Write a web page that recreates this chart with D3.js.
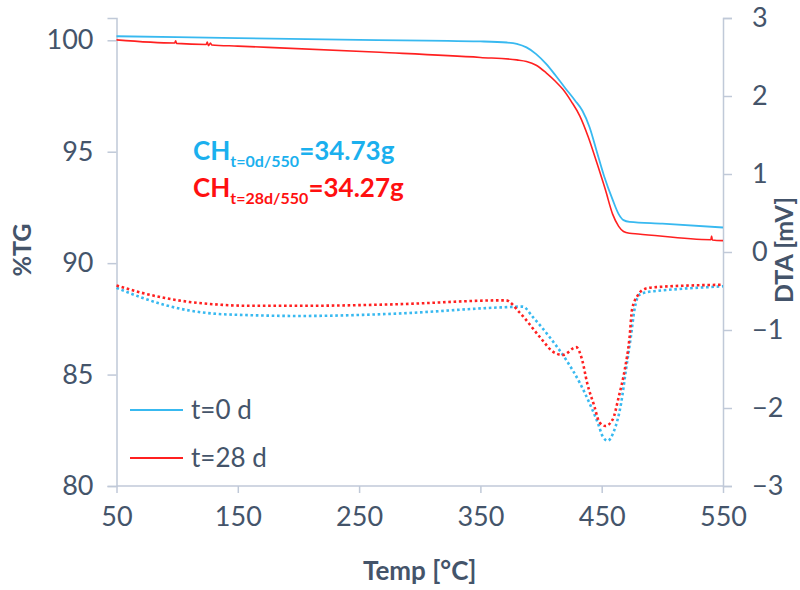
<!DOCTYPE html>
<html>
<head>
<meta charset="utf-8">
<script src="https://cdn.jsdelivr.net/npm/d3@7"></script>
<style>
    body { margin: 0; background: #ffffff; }
    svg { display: block; }
</style>
</head>
<body>
<svg id="chart" width="800" height="590"></svg>
<script>
// TG curves (left axis, %TG) - [temp, value]
const tg0d = [
    [50, 100.18], [150, 100.10], [250, 100.02], [350, 99.95], [372, 99.90],
    [380, 99.84], [388, 99.68], [396, 99.38], [404, 98.95], [412, 98.42],
    [420, 97.85], [428, 97.30], [434, 96.85], [440, 96.10], [446, 95.00],
    [452, 93.90], [459, 92.85], [464, 92.20], [468, 91.93], [473, 91.85],
    [500, 91.77], [550, 91.60]
];
const tg28d = [
    [50, 100.02], [98, 99.88], [98.8, 99.98], [99.5, 99.86], [124, 99.81],
    [124.8, 99.92], [125.8, 99.76], [127.5, 99.88], [128.5, 99.79],
    [150, 99.74], [267, 99.46], [350, 99.23], [380, 99.12], [388, 99.05],
    [396, 98.88], [404, 98.55], [412, 98.15], [418, 97.80], [425, 97.25],
    [432, 96.60], [439, 95.65], [446, 94.50], [453, 93.30], [459, 92.20],
    [464, 91.65], [468, 91.42], [473, 91.34], [480, 91.31], [540, 91.05],
    [540.6, 91.22], [541.2, 91.04], [550, 91.01]
];
// DTA curves (right axis, mV)
const dta0d = [
    [50, -0.46], [70, -0.58], [90, -0.68], [110, -0.75], [130, -0.79],
    [160, -0.81], [201, -0.82], [281, -0.79],
    [367, -0.71], [385, -0.70], [393, -0.83], [407, -1.09], [421, -1.39],
    [432, -1.68], [440, -1.94], [447, -2.20], [451, -2.37], [455, -2.42],
    [460, -2.30], [466, -1.94], [470, -1.51], [474, -1.09], [477, -0.74],
    [481, -0.55], [489, -0.51], [495, -0.50], [550, -0.44]
];
const dta28d = [
    [50, -0.43], [70, -0.52], [90, -0.59], [110, -0.64], [130, -0.67],
    [160, -0.69], [201, -0.69], [281, -0.67],
    [368, -0.62], [371, -0.62], [382, -0.77], [399, -1.09], [410, -1.28],
    [418, -1.32], [429, -1.22], [434, -1.39], [438, -1.68], [444, -1.98],
    [448, -2.18], [453, -2.23], [459, -2.15], [464, -1.86], [469, -1.51],
    [473, -1.09], [475, -0.74], [480, -0.55], [486, -0.47], [495, -0.45],
    [550, -0.42]
];

const xTicks = [50, 150, 250, 350, 450, 550];
const tgTicks = [80, 85, 90, 95, 100];
const dtaTicks = [-3, -2, -1, 0, 1, 2, 3];
const legendLabels = ["t=0 d", "t=28 d"];

const blue = "#38B9F0";
const red = "#FF2020";
const textColor = "#44546A";
const axisColor = "#C0C9D8";
const font = "Lato, 'Open Sans', sans-serif";

const svg = d3.select("#chart");

const x = d3.scaleLinear().domain([50, 550]).range([116.5, 723]);
const yL = d3.scaleLinear().domain([80, 101]).range([486, 18]);
const yR = d3.scaleLinear().domain([-3, 3]).range([486, 18]);

// axes
const xAxis = d3.axisBottom(x).tickValues(xTicks).tickSize(7).tickPadding(14);
const yAxisL = d3.axisLeft(yL).tickValues(tgTicks).tickSize(9).tickPadding(14);
const yAxisR = d3.axisRight(yR).tickValues(dtaTicks).tickSize(9).tickPadding(20)
    .tickFormat(d3.format("d"));

function styleAxis(g) {
    g.select(".domain").attr("stroke", axisColor).attr("stroke-width", 1.5);
    g.selectAll(".tick line").attr("stroke", axisColor).attr("stroke-width", 1.5);
    g.selectAll(".tick text")
        .attr("fill", textColor)
        .style("font-family", font)
        .style("font-size", "27px");
}

svg.append("g")
    .attr("transform", `translate(0,${yL(80)})`)
    .call(xAxis)
    .call(g => g.select(".domain").attr("d", `M${x(50)},0H${x(550)}`))
    .call(styleAxis);

svg.append("g")
    .attr("transform", `translate(${x(50)},0)`)
    .call(yAxisL)
    .call(styleAxis);

svg.append("g")
    .attr("transform", `translate(${x(550)},0)`)
    .call(yAxisR)
    .call(styleAxis);

// axis titles
svg.append("text")
    .attr("x", (x(50) + x(550)) / 2)
    .attr("y", 580)
    .attr("text-anchor", "middle")
    .attr("fill", textColor)
    .style("font-family", font).style("font-size", "26px").style("font-weight", "bold")
    .text("Temp [°C]");

svg.append("text")
    .attr("transform", "translate(31,250) rotate(-90)")
    .attr("text-anchor", "middle")
    .attr("fill", textColor)
    .style("font-family", font).style("font-size", "25px").style("font-weight", "bold")
    .text("%TG");

svg.append("text")
    .attr("transform", "translate(793,250) rotate(-90)")
    .attr("text-anchor", "middle")
    .attr("fill", textColor)
    .style("font-family", font).style("font-size", "25px").style("font-weight", "bold")
    .text("DTA [mV]");

// lines
const lineL = d3.line().x(d => x(d[0])).y(d => yL(d[1])).curve(d3.curveMonotoneX);
const lineR = d3.line().x(d => x(d[0])).y(d => yR(d[1])).curve(d3.curveMonotoneX);

const plot = svg.append("g").attr("fill", "none");

plot.append("path").datum(dta0d)
    .attr("d", lineR).attr("stroke", blue)
    .attr("stroke-width", 2.6).attr("stroke-dasharray", "2.6,2.7");
plot.append("path").datum(dta28d)
    .attr("d", lineR).attr("stroke", red)
    .attr("stroke-width", 2.6).attr("stroke-dasharray", "2.6,2.7");

plot.append("path").datum(tg0d)
    .attr("d", lineL).attr("stroke", blue).attr("stroke-width", 1.8);
plot.append("path").datum(tg28d)
    .attr("d", lineL).attr("stroke", red).attr("stroke-width", 1.6);

// legend
const legend = svg.append("g");
[blue, red].forEach((c, i) => {
    const ly = 410 + i * 48;
    legend.append("line")
        .attr("x1", 130).attr("x2", 183).attr("y1", ly).attr("y2", ly)
        .attr("stroke", c).attr("stroke-width", 2);
    legend.append("text")
        .attr("x", 191).attr("y", ly).attr("dy", "0.35em")
        .attr("fill", textColor)
        .style("font-family", font).style("font-size", "26px")
        .text(legendLabels[i]);
});

// annotations
const notes = [
    { sub: "t=0d/550", val: "=34.73g", color: "#1BB0EE", y: 160 },
    { sub: "t=28d/550", val: "=34.27g", color: "#FF1010", y: 197 }
];
notes.forEach(n => {
    const t = svg.append("text")
        .attr("x", 193).attr("y", n.y)
        .attr("fill", n.color)
        .style("font-family", font).style("font-weight", "bold")
        .style("font-size", "26px");
    t.append("tspan").text("CH");
    t.append("tspan").attr("dy", 7).style("font-size", "16px").text(n.sub);
    t.append("tspan").attr("dy", -7).text(n.val);
});
</script>
</body>
</html>
